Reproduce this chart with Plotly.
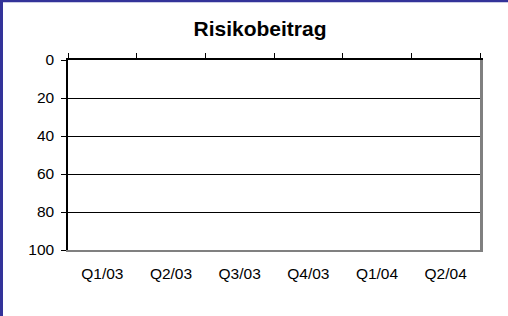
import plotly.graph_objects as go

categories = ["Q1/03", "Q2/03", "Q3/03", "Q4/03", "Q1/04", "Q2/04"]
risk_values = [None, None, None, None, None, None]
y_ticks = [0, 20, 40, 60, 80, 100]
title_text = "Risikobeitrag"

W, H = 508, 316
ML, MR, MT, MB = 68, 28, 60, 66
pw, ph = W - ML - MR, H - MT - MB

fig = go.Figure()
fig.add_trace(go.Bar(x=categories, y=risk_values, name=title_text,
                     marker_color="#9999ff", showlegend=False))
# helper traces so the top/right decorative axes are drawn
fig.add_trace(go.Scatter(x=[0, len(categories)], y=[0, 100], xaxis="x2", yaxis="y2",
                         mode="markers", marker_opacity=0, showlegend=False,
                         hoverinfo="skip"))

font = dict(family="Liberation Sans, Arial, sans-serif", color="black")

fig.update_layout(
    width=W, height=H,
    margin=dict(l=ML, r=MR, t=MT, b=MB, pad=0),
    paper_bgcolor="white", plot_bgcolor="white",
    font=dict(size=15.5, **font),
    title=dict(text="<b>" + title_text + "</b>", x=(260 - ML) / pw, xref="paper",
               xanchor="center", y=1 - 28.5 / H, yanchor="middle",
               font=dict(size=21, **font)),
    showlegend=False,
    xaxis=dict(type="category", range=[-0.5, len(categories) - 0.5],
               showline=True, linecolor="#808080", linewidth=2,
               ticks="outside", ticklen=8, tickcolor="rgba(0,0,0,0)",
               showgrid=False, zeroline=False, tickfont=dict(size=15.5, **font)),
    yaxis=dict(range=[100, 0], tickvals=y_ticks, ticks="outside", ticklen=5,
               tickcolor="black", tickwidth=1, showline=True, linecolor="black",
               linewidth=1.5, showgrid=True, gridcolor="black", gridwidth=1,
               zeroline=False, ticklabelstandoff=4, tickfont=dict(size=15.5, **font)),
    xaxis2=dict(overlaying="x", side="top", anchor="y", range=[0, len(categories)],
                tickvals=list(range(len(categories) + 1)), ticks="outside", ticklen=5,
                tickcolor="black", tickwidth=1, showticklabels=False,
                showline=True, linecolor="black", linewidth=1.5,
                showgrid=False, zeroline=False),
    yaxis2=dict(overlaying="y", side="right", anchor="x", range=[100, 0],
                showticklabels=False, ticks="", showline=True, linecolor="#808080",
                linewidth=2.5, showgrid=False, zeroline=False),
    shapes=[
        dict(type="line", xref="paper", yref="paper",
             x0=(1.5 - ML) / pw, x1=(1.5 - ML) / pw,
             y0=1 + MT / ph, y1=-MB / ph, line=dict(color="#333399", width=3)),
        dict(type="line", xref="paper", yref="paper",
             x0=-ML / pw, x1=1 + MR / pw,
             y0=1 + (MT - 1) / ph, y1=1 + (MT - 1) / ph,
             line=dict(color="#333399", width=2.5)),
    ],
)

fig.write_html("out.html", config={"displayModeBar": False},
               post_script="document.body.style.margin='0';document.body.style.padding='0';document.body.style.overflow='hidden';")
